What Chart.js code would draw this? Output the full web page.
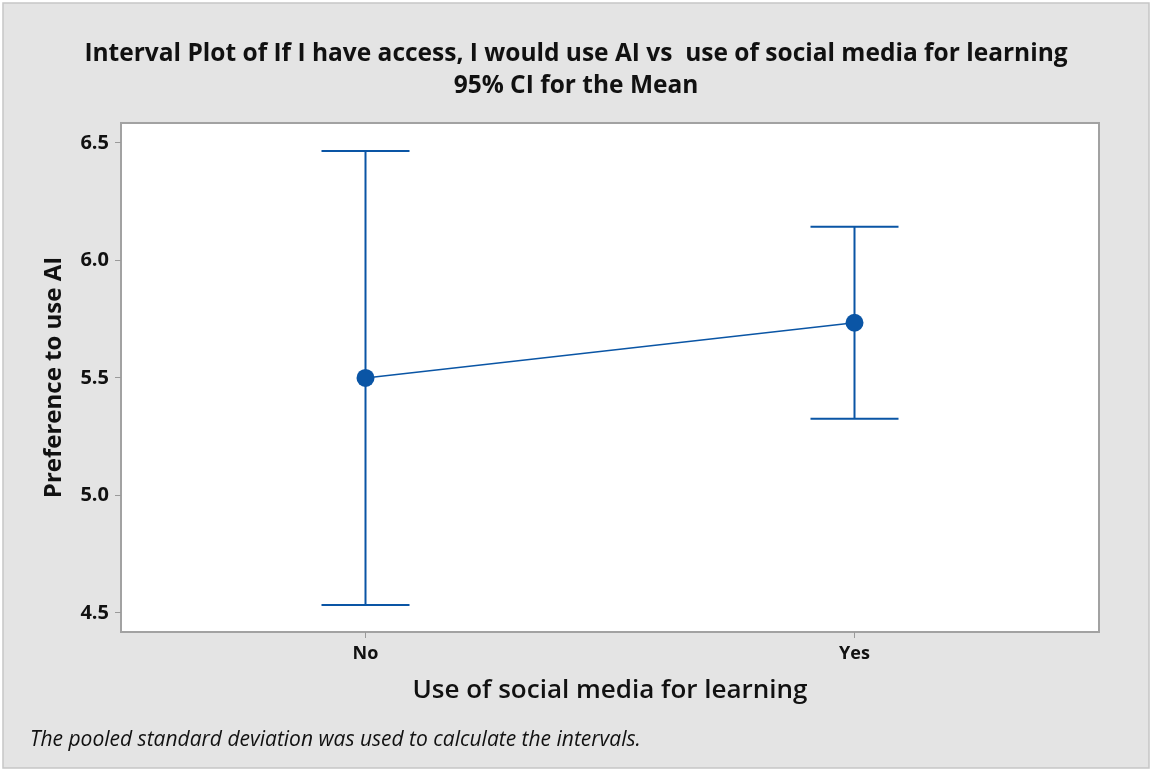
<!DOCTYPE html>
<html>
<head>
<meta charset="utf-8">
<script src="https://cdn.jsdelivr.net/npm/chart.js@4"></script>
<style>
  html, body { margin: 0; padding: 0; background: #ffffff; }
  #wrap { width: 1152px; height: 769px; }
</style>
</head>
<body>
<div id="wrap"><canvas id="chart" width="1152" height="769"></canvas></div>
<script>
// groups and 95% CI for the mean
const groups = ['No', 'Yes'];
const means = [5.500, 5.735];
const lowerCI = [4.534, 5.326];
const upperCI = [6.466, 6.144];
const yTicks = [4.5, 5.0, 5.5, 6.0, 6.5];

const FONT = "'Open Sans', 'Noto Sans', sans-serif";
const BLUE = '#0a55a5';
const TEXT = '#111111';

// grey panel, outer frame and white plot region
const panel = {
  id: 'panel',
  beforeDraw(chart) {
    const { ctx, chartArea: a, width, height } = chart;
    ctx.save();
    ctx.fillStyle = '#ffffff';
    ctx.fillRect(0, 0, width, height);
    ctx.fillStyle = '#e4e4e4';
    ctx.fillRect(3, 3, width - 6, height - 4);
    ctx.strokeStyle = '#c6c6c6';
    ctx.lineWidth = 1.5;
    ctx.strokeRect(3, 3, width - 6, height - 4);
    ctx.fillStyle = '#ffffff';
    ctx.fillRect(a.left, a.top, a.right - a.left, a.bottom - a.top);
    ctx.strokeStyle = '#a2a2a2';
    ctx.lineWidth = 2;
    ctx.strokeRect(a.left, a.top, a.right - a.left, a.bottom - a.top);
    ctx.restore();
  }
};

// vertical interval lines with end caps
const intervals = {
  id: 'intervals',
  beforeDatasetsDraw(chart) {
    const { ctx, scales: { x, y } } = chart;
    const cap = 44;
    ctx.save();
    ctx.strokeStyle = BLUE;
    ctx.lineWidth = 2;
    groups.forEach((g, i) => {
      const px = x.getPixelForValue(i);
      const top = y.getPixelForValue(upperCI[i]);
      const bot = y.getPixelForValue(lowerCI[i]);
      ctx.beginPath();
      ctx.moveTo(px, top);
      ctx.lineTo(px, bot);
      ctx.moveTo(px - cap, top);
      ctx.lineTo(px + cap, top);
      ctx.moveTo(px - cap, bot);
      ctx.lineTo(px + cap, bot);
      ctx.stroke();
    });
    ctx.restore();
  }
};

new Chart(document.getElementById('chart'), {
  type: 'line',
  data: {
    labels: groups,
    datasets: [{
      data: means,
      borderColor: BLUE,
      borderWidth: 1.5,
      pointRadius: 9,
      pointHoverRadius: 9,
      pointBackgroundColor: BLUE,
      pointBorderWidth: 0,
      tension: 0
    }]
  },
  options: {
    responsive: false,
    animation: false,
    events: [],
    layout: { padding: { left: 30, right: 30, top: 0, bottom: 0 } },
    plugins: {
      legend: { display: false },
      tooltip: { enabled: false },
      title: {
        display: true,
        text: ['Interval Plot of If I have access, I would use AI vs  use of social media for learning', '95% CI for the Mean'],
        color: TEXT,
        font: { family: FONT, size: 24.5, weight: 'bold', lineHeight: 1.306 },
        padding: { top: 38, bottom: 21 }
      },
      subtitle: {
        display: true,
        position: 'bottom',
        align: 'start',
        text: 'The pooled standard deviation was used to calculate the intervals.',
        color: TEXT,
        font: { family: FONT, size: 21, style: 'italic', weight: 'normal', lineHeight: 1.2 },
        padding: { top: 6, bottom: 16 }
      }
    },
    scales: {
      x: {
        type: 'category',
        offset: true,
        grid: { display: true, drawOnChartArea: false, drawTicks: true, tickLength: 6, color: '#9a9a9a', offset: false },
        border: { display: false },
        ticks: { color: TEXT, padding: 5, font: { family: FONT, size: 18, weight: 'bold' } },
        title: {
          display: true,
          text: 'Use of social media for learning',
          color: TEXT,
          font: { family: FONT, size: 26, weight: '600', lineHeight: 1.2 },
          padding: { top: 0, bottom: 16 }
        },
        afterFit(scale) { scale.height = 89.8; }
      },
      y: {
        type: 'linear',
        position: 'left',
        min: 4.419,
        max: 6.585,
        grid: { display: true, drawOnChartArea: false, drawTicks: true, tickLength: 6, color: '#9a9a9a' },
        border: { display: false },
        afterBuildTicks(scale) { scale.ticks = yTicks.map(v => ({ value: v })); },
        ticks: {
          color: TEXT,
          padding: 6,
          font: { family: FONT, size: 20, weight: 'bold' },
          callback: v => Number(v).toFixed(1)
        },
        title: {
          display: true,
          text: 'Preference to use AI',
          color: TEXT,
          font: { family: FONT, size: 24, weight: 'bold', lineHeight: 1.2 },
          padding: { top: 10, bottom: 0 }
        },
        afterFit(scale) { scale.width = 91; }
      },
      y2: {
        type: 'linear',
        position: 'right',
        display: true,
        grid: { display: false },
        border: { display: false },
        ticks: { display: false },
        afterFit(scale) { scale.width = 23; }
      }
    }
  },
  plugins: [panel, intervals]
});
</script>
</body>
</html>
